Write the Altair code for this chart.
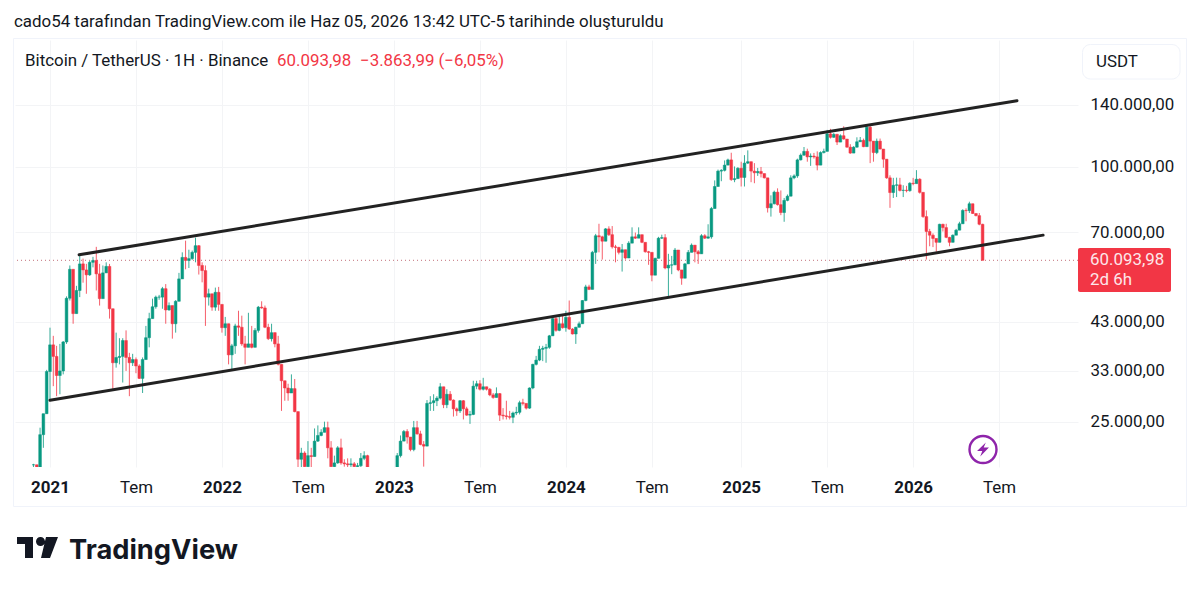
import altair as alt
import pandas as pd

FONT = "Roboto"
GREEN = "#089981"
RED = "#F23645"
INK = "#131722"
GRID = "#F3F4F6"
TEXT_SIZE = 16.9

first_bar = -2
price_unit = 1004  # the price lists below are in units of 1004 USDT

# weekly candles, starting at bar -2
closes_k = [
    19.7, 18.5,
    23.2, 26.0, 32.7, 37.8, 35.5, 32.0, 32.8, 38.4, 48.7, 57.0,
    44.8, 50.8, 58.7, 56.8, 55.3, 59.2, 59.8, 55.6, 48.6, 55.9,
    57.9, 46.0, 34.3, 35.3, 35.5, 38.7, 35.3, 34.3, 34.9, 33.7,
    31.5, 34.9, 39.3, 43.6, 46.5, 49.0, 49.0, 51.3, 45.7, 46.8,
    42.4, 47.9, 54.1, 60.8, 59.8, 60.4, 62.5, 64.8, 58.2, 56.6,
    49.0, 49.9, 46.4, 50.3, 47.1, 41.5, 42.4, 35.8, 37.6, 41.9,
    41.6, 38.0, 37.3, 38.0, 37.3, 40.9, 46.4, 46.2, 41.6, 39.1,
    40.4, 38.0, 34.0, 31.1, 29.9, 29.1, 29.8, 26.3, 20.3, 21.0,
    19.5, 20.7, 20.6, 22.4, 23.1, 23.5, 24.1, 21.6, 19.5, 19.9,
    21.6, 19.9, 19.8, 19.7, 19.8, 19.5, 19.6, 20.4, 20.7, 19.3,
    17.5, 17.2, 17.0, 16.8, 16.7, 16.6, 16.8, 18.2,
    20.7, 22.4, 23.6, 22.9, 21.4, 24.1, 23.3, 22.0, 21.8, 27.5, 27.6, 27.9,
    28.3, 30.1, 27.3, 28.9, 28.0, 26.7, 26.4, 27.9, 26.7, 25.8,
    25.9, 30.2, 30.6, 29.7, 30.1, 29.7, 28.8, 28.4, 29.0, 25.8,
    25.7, 25.6, 25.5, 26.1, 26.2, 27.6, 27.5, 26.8, 29.9, 34.0,
    34.8, 36.9, 37.1, 37.3, 39.7, 43.6, 40.9, 42.4, 41.5, 43.9,
    41.2, 40.1, 41.6, 42.4, 48.1, 51.8, 51.1, 62.5, 68.4, 68.0,
    66.4, 71.0, 68.8, 64.4, 64.2, 62.5, 63.4, 60.6, 65.7, 68.0,
    67.5, 68.8, 66.0, 62.7, 62.5, 55.2, 60.5, 67.5, 67.7, 57.4,
    58.3, 58.4, 63.3, 56.8, 54.3, 58.7, 62.5, 65.0, 62.7, 62.0,
    68.4, 67.5, 68.0, 79.3, 89.4, 97.2, 97.6, 100.4, 103.3, 92.8,
    93.3, 98.7, 93.9, 101.5, 102.3, 97.2, 96.3, 97.0, 95.9, 93.7,
    79.6, 81.4, 86.7, 81.0, 77.6, 82.9, 84.8, 93.7, 94.7, 103.3,
    106.0, 108.2, 105.0, 105.5, 105.0, 100.4, 107.5, 108.2, 119.0, 116.8,
    118.7, 113.8, 117.8, 115.7, 110.7, 107.2, 110.7, 114.0, 114.9, 111.0,
    123.4, 114.4, 107.5, 114.4, 109.6, 103.7, 93.7, 86.5, 90.0, 90.2,
    87.5, 87.6, 87.4, 91.0, 90.8, 93.0, 86.6, 75.9, 70.0, 68.6,
    67.4, 66.0, 72.8, 71.5, 67.8, 66.0, 68.6, 70.5, 73.0, 78.5,
    78.4, 81.4, 77.2, 76.3, 72.8, 59.85,
]
highs_k = [
    19.8, 19.0,
    24.1, 26.0, 33.0, 41.5, 39.7, 37.6, 38.0, 38.6, 49.2, 58.2,
    57.0, 52.1, 61.4, 60.4, 58.7, 59.8, 61.0, 64.4, 58.7, 58.2,
    59.2, 58.7, 46.0, 40.4, 39.2, 39.2, 40.9, 36.2, 36.0, 35.3,
    34.0, 35.3, 41.9, 45.0, 48.6, 49.4, 49.6, 51.8, 52.6, 47.6,
    46.8, 48.2, 55.9, 62.5, 66.6, 63.4, 63.1, 67.7, 65.0, 59.2,
    58.2, 51.3, 49.9, 51.6, 51.8, 47.1, 44.0, 42.4, 38.0, 42.4,
    45.5, 44.3, 39.7, 45.0, 41.9, 41.4, 46.7, 47.9, 46.8, 42.4,
    42.4, 40.4, 39.7, 34.0, 31.1, 30.6, 32.2, 31.4, 26.3, 21.6,
    21.2, 22.4, 21.6, 24.0, 24.4, 23.9, 24.9, 24.9, 22.4, 20.7,
    21.8, 22.7, 20.3, 20.4, 20.4, 20.0, 19.9, 21.0, 21.2, 20.8,
    18.0, 17.6, 17.4, 17.2, 17.0, 17.0, 17.2, 18.6,
    21.0, 23.1, 23.8, 23.9, 22.9, 25.0, 25.0, 23.7, 22.4, 28.0, 28.6, 28.9,
    28.6, 30.7, 30.1, 29.7, 29.4, 28.1, 26.9, 28.0, 28.0, 27.0,
    26.4, 31.1, 31.1, 31.2, 31.6, 30.1, 29.9, 29.1, 30.0, 29.1,
    26.8, 27.9, 26.4, 26.3, 27.0, 27.9, 28.2, 27.5, 30.0, 34.1,
    35.6, 37.6, 37.6, 38.0, 39.9, 44.0, 44.3, 44.0, 44.3, 45.5,
    48.1, 41.4, 41.7, 42.9, 48.2, 52.4, 52.4, 63.0, 69.1, 73.0,
    68.4, 71.3, 72.0, 72.1, 65.1, 64.4, 65.4, 63.4, 66.4, 71.6,
    69.6, 71.6, 68.8, 66.0, 63.0, 62.5, 60.7, 68.0, 68.8, 69.0,
    62.0, 61.3, 64.0, 63.3, 56.8, 59.0, 63.3, 65.6, 65.0, 63.3,
    69.0, 69.0, 72.8, 80.0, 92.4, 98.0, 98.2, 103.0, 104.0, 107.4,
    99.7, 99.3, 102.3, 106.0, 108.8, 102.3, 101.5, 98.9, 99.4, 95.0,
    93.7, 85.2, 87.4, 88.5, 87.5, 84.0, 85.6, 95.0, 95.5, 104.0,
    107.0, 110.8, 109.8, 107.0, 107.3, 108.2, 108.2, 109.8, 121.6, 122.3,
    119.5, 119.0, 118.7, 124.0, 115.7, 112.5, 111.3, 116.8, 117.0, 116.0,
    124.2, 124.2, 114.4, 116.0, 116.0, 109.6, 103.7, 95.0, 93.7, 93.8,
    93.7, 90.0, 89.7, 91.5, 93.7, 97.7, 93.5, 86.6, 78.5, 71.0,
    69.3, 67.3, 73.0, 73.0, 73.0, 68.0, 68.9, 71.0, 73.8, 79.0,
    79.4, 82.3, 81.0, 77.2, 77.4, 73.0,
]
lows_k = [
    18.0, 17.5,
    17.0, 21.6, 26.0, 27.9, 30.2, 28.6, 28.9, 32.2, 38.0, 48.1,
    42.4, 44.8, 49.0, 53.0, 49.9, 55.0, 57.6, 50.8, 46.8, 48.6,
    55.9, 43.6, 29.6, 33.4, 34.0, 30.8, 32.8, 28.6, 33.7, 32.4,
    31.4, 29.1, 34.9, 37.3, 43.6, 46.0, 48.3, 46.0, 42.4, 45.5,
    39.1, 40.4, 47.9, 54.1, 57.0, 57.4, 60.0, 59.2, 55.4, 53.1,
    41.9, 46.8, 45.5, 45.5, 45.5, 40.4, 39.7, 34.0, 33.0, 36.0,
    39.7, 37.6, 34.0, 37.3, 37.1, 37.4, 40.4, 46.0, 41.4, 38.8,
    38.5, 37.3, 33.8, 26.4, 27.9, 27.9, 29.1, 26.2, 19.4, 19.4,
    18.8, 18.8, 19.4, 20.6, 22.3, 23.0, 23.5, 20.4, 19.0, 19.3,
    19.8, 19.7, 19.5, 19.3, 19.3, 19.0, 19.0, 19.3, 20.2, 18.5,
    16.9, 16.8, 16.6, 16.4, 16.4, 16.2, 16.4, 16.8,
    18.0, 20.5, 22.4, 22.1, 21.2, 21.2, 23.2, 21.9, 19.5, 21.9, 26.4, 26.4,
    27.1, 28.1, 26.8, 26.8, 27.9, 25.6, 25.7, 26.1, 25.2, 25.7,
    24.6, 25.8, 29.7, 29.5, 29.5, 29.5, 28.6, 28.2, 28.4, 25.0,
    25.2, 25.2, 25.2, 24.7, 25.8, 25.9, 27.2, 26.6, 26.7, 29.7,
    33.8, 34.6, 34.6, 34.3, 37.0, 39.7, 40.6, 40.7, 41.3, 40.6,
    41.0, 40.0, 38.0, 41.5, 42.4, 47.9, 50.9, 51.1, 58.7, 62.5,
    60.1, 66.4, 68.3, 63.8, 59.2, 61.8, 56.3, 60.1, 60.6, 65.7,
    67.2, 67.5, 65.7, 62.4, 58.4, 53.4, 55.2, 60.5, 67.2, 57.0,
    49.3, 55.5, 58.3, 56.4, 52.4, 54.3, 58.7, 62.5, 59.2, 58.7,
    62.0, 67.2, 67.3, 67.3, 79.3, 89.4, 92.0, 97.0, 100.4, 92.2,
    91.5, 93.3, 89.4, 89.4, 101.0, 91.5, 91.0, 94.7, 93.9, 93.4,
    77.6, 75.9, 81.1, 80.6, 76.5, 73.8, 82.5, 84.8, 93.0, 93.7,
    103.0, 105.6, 102.3, 100.0, 104.0, 97.6, 100.4, 107.0, 108.2, 116.0,
    116.5, 112.0, 113.8, 115.3, 110.4, 106.8, 107.2, 110.4, 114.0, 110.7,
    111.0, 101.5, 102.3, 106.6, 109.3, 99.0, 93.2, 79.6, 84.0, 84.4,
    87.0, 84.4, 86.6, 86.9, 90.0, 91.0, 86.0, 75.4, 60.1, 64.6,
    64.3, 62.7, 66.0, 70.0, 67.5, 64.6, 66.0, 68.6, 70.5, 73.0,
    74.0, 77.4, 77.0, 76.0, 72.4, 59.85,
]

# axes
xtick_bars = [3, 29, 55, 81, 107, 133, 159, 185, 212, 238, 264, 290]
xtick_labels = ["2021", "Tem", "2022", "Tem", "2023", "Tem", "2024", "Tem", "2025", "Tem", "2026", "Tem"]
ytick_values = [25000, 33000, 43000, 70000, 100000, 140000]
x_domain = [-7.58, 313.85]
y_domain = [19540, 199000]

# the two drawn trend lines (bar, price)
upper_bars = [11.8, 295.4]
upper_prices = [61900, 143100]
lower_bars = [3, 303.3]
lower_prices = [28100, 68900]
last_price = 60093.98

opens_k = [closes_k[0]] + closes_k[:-1]
df = pd.DataFrame({
    "bar": list(range(first_bar, first_bar + len(closes_k))),
    "open": [v * price_unit for v in opens_k],
    "close": [v * price_unit for v in closes_k],
    "high": [max(h, o, c) * price_unit for h, o, c in zip(highs_k, opens_k, closes_k)],
    "low": [min(l, o, c) * price_unit for l, o, c in zip(lows_k, opens_k, closes_k)],
})
df["dir"] = ["up" if c >= o else "down" for c, o in zip(df["close"], df["open"])]

x_scale = alt.Scale(domain=x_domain, nice=False, zero=False, padding=0)
y_scale = alt.Scale(type="log", domain=y_domain, nice=False, padding=0)
color = alt.Color("dir:N", scale=alt.Scale(domain=["up", "down"], range=[GREEN, RED]), legend=None)

label_map = "{" + ",".join(f"'{b}':'{l}'" for b, l in zip(xtick_bars, xtick_labels)) + "}"
year_bars = [b for b, l in zip(xtick_bars, xtick_labels) if l != "Tem"]

x_axis = alt.Axis(
    values=xtick_bars, labelExpr=label_map + "[datum.value]", title=None, domain=False, ticks=False,
    grid=True, gridColor=GRID, gridWidth=1, labelFont=FONT, labelFontSize=TEXT_SIZE, labelColor=INK,
    labelPadding=12, labelFlush=False, labelOverlap=False,
    labelFontWeight={"condition": {"test": f"indexof({year_bars}, datum.value) >= 0", "value": 700}, "value": 400},
)
y_axis = alt.Axis(
    orient="right", values=ytick_values, title=None, domain=False, ticks=False, grid=True,
    gridColor=GRID, gridWidth=1, labelFont=FONT, labelFontSize=TEXT_SIZE, labelColor=INK, labelPadding=12,
    labelExpr="replace(format(datum.value, ','), ',', '.') + ',00'", labelOverlap=False,
)

base = alt.Chart(df)
wicks = base.mark_rule(strokeWidth=1, clip=True, opacity=0.8).encode(
    x=alt.X("bar:Q", scale=x_scale, axis=x_axis),
    y=alt.Y("low:Q", scale=y_scale, axis=y_axis),
    y2="high:Q",
    color=color,
)
bodies = base.mark_bar(size=2.7, clip=True, strokeWidth=0.5).encode(
    x=alt.X("bar:Q", scale=x_scale, axis=x_axis),
    y=alt.Y("open:Q", scale=y_scale, axis=y_axis),
    y2="close:Q",
    color=color,
    stroke=alt.Stroke("dir:N", scale=alt.Scale(domain=["up", "down"], range=[GREEN, RED]), legend=None),
)

trend_df = pd.DataFrame({
    "bar": upper_bars + lower_bars,
    "price": upper_prices + lower_prices,
    "line": ["upper", "upper", "lower", "lower"],
})
trends = alt.Chart(trend_df).mark_line(color="#222222", strokeWidth=3, strokeCap="round").encode(
    x=alt.X("bar:Q", scale=x_scale, axis=x_axis),
    y=alt.Y("price:Q", scale=y_scale, axis=y_axis),
    detail="line:N",
)

last_line = alt.Chart(pd.DataFrame({"price": [last_price]})).mark_rule(
    color="#C2707A", strokeWidth=1, strokeDash=[1, 3]
).encode(y=alt.Y("price:Q", scale=y_scale, axis=y_axis))

# page furniture: all positions are relative to the plot area (page x-15, page y-40)
def px(v):
    return alt.value(v - 15)

def py(v):
    return alt.value(v - 40)

one = pd.DataFrame({"a": [0]})

def text(s, x, y, size=TEXT_SIZE, color=INK, weight=400, font=FONT, align="left"):
    return alt.Chart(one).mark_text(
        text=s, align=align, baseline="middle", fontSize=size, color=color, fontWeight=weight, font=font
    ).encode(x=px(x), y=py(y))

frame = alt.Chart(one).mark_rect(fill="transparent", stroke="#F0F3FA", strokeWidth=1).encode(
    x=px(13.5), x2=px(1186.5), y=py(38.5), y2=py(506.5))
usdt_box = alt.Chart(one).mark_rect(fill="white", stroke="#F0F3FA", strokeWidth=1, cornerRadius=8).encode(
    x=px(1082.5), x2=px(1180), y=py(44.5), y2=py(79))
price_box = alt.Chart(one).mark_rect(fill=RED, cornerRadius=2).encode(
    x=px(1078), x2=px(1171), y=py(248), y2=py(292))

bolt_ring = alt.Chart(one).mark_point(shape="circle", size=729, stroke="#8E24AA", strokeWidth=2.4, filled=False, opacity=1).encode(
    x=px(983), y=py(449.5))
bolt = alt.Chart(one).mark_point(
    shape="M0.4,-1 L-0.85,0.2 L-0.1,0.2 L-0.4,1 L0.85,-0.3 L0.1,-0.3 Z",
    size=196, fill="#8E24AA", filled=True, stroke=None, opacity=1,
).encode(x=px(983), y=py(449.5))
logo = alt.Chart(one).mark_point(
    shape=("M-1.025,-0.525 L-0.225,-0.525 L-0.225,0.525 L-0.625,0.525 L-0.625,-0.175 L-1.025,-0.175 Z "
           "M-0.075,-0.3 A0.225,0.225 0 1 1 0.375,-0.3 A0.225,0.225 0 1 1 -0.075,-0.3 Z "
           "M0.425,-0.525 L1.025,-0.525 L0.625,0.525 L0.175,0.525 Z"),
    size=1600, fill="#131722", filled=True, stroke=None, opacity=1,
).encode(x=px(37.5), y=py(547.5))

texts = [
    text("cado54 tarafından TradingView.com ile Haz 05, 2026 13:42 UTC-5 tarihinde oluşturuldu", 14, 21.5),
    text("Bitcoin / TetherUS · 1H · Binance", 25, 60.5),
    text("60.093,98", 277, 60.5, color=RED),
    text("−3.863,99 (−6,05%)", 360, 60.5, color=RED),
    text("USDT", 1096, 61.5),
    text("60.093,98", 1090, 260, color="#FDE7EA"),
    text("2d 6h", 1090, 279.5, color="#FDE7EA"),
    text("TradingView", 69, 550.5, size=27.3, color="#131722", weight=700, font="Inter"),
]

chart = alt.layer(
    wicks, last_line, bodies, trends, frame, usdt_box, price_box, bolt_ring, bolt, logo, *texts
).properties(
    width=1063, height=427,
    padding={"left": 7, "top": 32, "right": 114, "bottom": 116},
    autosize=alt.AutoSizeParams(type="none"),
    background="white",
).configure_view(stroke=None)

chart.save("out.html", embed_options={"renderer": "svg", "actions": False})
